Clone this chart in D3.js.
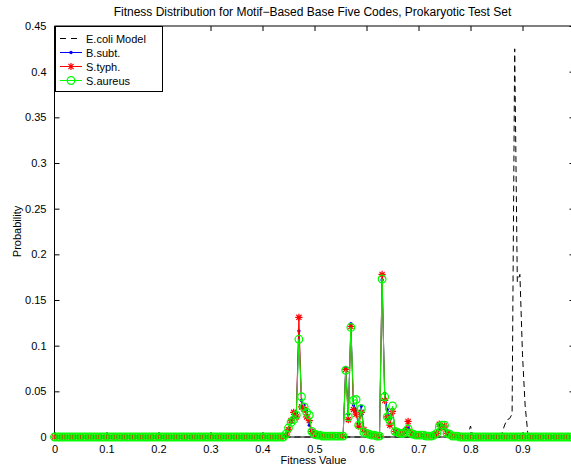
<!DOCTYPE html>
<html>
<head>
<meta charset="utf-8">
<script src="https://cdn.jsdelivr.net/npm/d3@7"></script>
<style>
  html, body { margin: 0; padding: 0; background: #fff; }
  svg { display: block; font-family: "Liberation Sans", Arial, Helvetica, sans-serif; }
</style>
</head>
<body>
<svg id="chart" width="571" height="468"></svg>
<script>
// Fitness bins run 0..1 in steps of 0.005; outside the listed windows every probability is 0.
const fitnessStep = 0.005;
const binCount = 201;

// Test-set organisms: probabilities for bins 0.440 .. 0.780
const organismWindowStart = 0.44;
const bsubt = [
  0, 0.002, 0.009, 0.016, 0.021, 0.026, 0.116, 0.040, 0.035, 0.028,
  0.013, 0.007, 0.003, 0.002, 0.002, 0.001, 0.001, 0.001, 0.001, 0.001,
  0.001, 0.001, 0.001, 0.001, 0.076, 0.025, 0.124, 0.035, 0.030, 0.015,
  0.034, 0.007, 0.006, 0.003, 0.002, 0.002, 0.001, 0.001, 0.172, 0.048,
  0.030, 0.020, 0.030, 0.007, 0.005, 0.004, 0.004, 0.006, 0.010, 0.004,
  0.003, 0.002, 0.002, 0.002, 0.001, 0.001, 0.001, 0.001, 0.002, 0.003,
  0.008, 0.013, 0.010, 0.004, 0.002, 0.001, 0.001, 0.001, 0
];
const styph = [
  0, 0.002, 0.008, 0.018, 0.027, 0.022, 0.131, 0.033, 0.030, 0.022,
  0.018, 0.006, 0.004, 0.003, 0.002, 0.001, 0.001, 0.001, 0.001, 0.001,
  0.001, 0.001, 0.001, 0.001, 0.074, 0.019, 0.121, 0.030, 0.025, 0.012,
  0.027, 0.008, 0.005, 0.003, 0.002, 0.002, 0.001, 0.001, 0.178, 0.040,
  0.022, 0.013, 0.028, 0.006, 0.005, 0.004, 0.004, 0.007, 0.017, 0.005,
  0.003, 0.002, 0.002, 0.002, 0.001, 0.001, 0.001, 0.001, 0.002, 0.004,
  0.014, 0.010, 0.012, 0.004, 0.002, 0.001, 0.001, 0.001, 0
];
const saureus = [
  0, 0.003, 0.010, 0.016, 0.019, 0.024, 0.107, 0.044, 0.033, 0.027,
  0.024, 0.006, 0.003, 0.002, 0.002, 0.001, 0.001, 0.001, 0.001, 0.001,
  0.001, 0.001, 0.001, 0.001, 0.073, 0.022, 0.120, 0.040, 0.041, 0.013,
  0.031, 0.005, 0.004, 0.003, 0.002, 0.002, 0.001, 0.001, 0.173, 0.044,
  0.022, 0.018, 0.034, 0.006, 0.005, 0.004, 0.004, 0.005, 0.009, 0.004,
  0.003, 0.002, 0.002, 0.002, 0.002, 0.001, 0.001, 0.001, 0.002, 0.004,
  0.011, 0.013, 0.013, 0.004, 0.003, 0.001, 0.001, 0.001, 0
];

// E. coli model: probabilities for bins 0.780 .. 0.920
const ecoliWindowStart = 0.78;
const ecoli = [
  0, 0, 0, 0.002, 0.012, 0.001, 0, 0, 0, 0,
  0, 0, 0, 0, 0, 0, 0.003, 0.012, 0.019, 0.020,
  0.025, 0.425, 0.170, 0.178, 0.090, 0.035, 0.005, 0, 0
];

const xTicks = [0, 0.1, 0.2, 0.3, 0.4, 0.5, 0.6, 0.7, 0.8, 0.9];
const yTicks = [0, 0.05, 0.1, 0.15, 0.2, 0.25, 0.3, 0.35, 0.4, 0.45];
const seriesNames = ["E.coli Model", "B.subt.", "S.typh.", "S.aureus"];

const titleText = "Fitness Distribution for Motif\u2212Based Base Five Codes, Prokaryotic Test Set";
const xLabel = "Fitness Value";
const yLabel = "Probability";

// Expand a window of values onto the full bin grid.
function onGrid(start, values) {
  const out = [];
  for (let i = 0; i < binCount; i++) {
    const f = +(i * fitnessStep).toFixed(3);
    const k = Math.round((f - start) / fitnessStep);
    out.push({ f, p: (k >= 0 && k < values.length) ? values[k] : 0 });
  }
  return out;
}

const svg = d3.select("#chart");

const x = d3.scaleLinear().domain([0, 1]).range([54.5, 574.5]);
const y = d3.scaleLinear().domain([0, 0.45]).range([437, 26]);

const plotLeft = x(0), plotRight = x(1), plotTop = y(0.45), plotBottom = y(0);

// Axes box and inward ticks
const axes = svg.append("g").attr("stroke", "#000").attr("stroke-width", 1).attr("fill", "none");
axes.append("line").attr("x1", plotLeft).attr("x2", plotLeft).attr("y1", plotTop).attr("y2", plotBottom);
axes.append("line").attr("x1", plotLeft).attr("x2", plotRight).attr("y1", plotBottom).attr("y2", plotBottom);
axes.append("line").attr("x1", plotLeft).attr("x2", plotRight).attr("y1", plotTop).attr("y2", plotTop);
axes.append("line").attr("x1", plotRight).attr("x2", plotRight).attr("y1", plotTop).attr("y2", plotBottom);

const xAxisB = d3.axisBottom(x).tickValues(xTicks).tickSize(-5).tickPadding(8).tickFormat(d => String(d));
const xAxisT = d3.axisTop(x).tickValues(xTicks).tickSize(-5).tickFormat("");
const yAxisL = d3.axisLeft(y).tickValues(yTicks).tickSize(-5).tickPadding(8).tickFormat(d => String(d));
const yAxisR = d3.axisRight(y).tickValues(yTicks).tickSize(-5).tickFormat("");

function styleAxis(g) {
  g.select(".domain").remove();
  g.selectAll(".tick line").attr("stroke", "#000");
  g.selectAll(".tick text").attr("fill", "#000").attr("font-size", 11)
    .attr("font-family", "'Liberation Sans', Arial, Helvetica, sans-serif");
}
svg.append("g").attr("transform", `translate(0,${plotBottom})`).call(xAxisB).call(styleAxis);
svg.append("g").attr("transform", `translate(0,${plotTop})`).call(xAxisT).call(styleAxis);
svg.append("g").attr("transform", `translate(${plotLeft},0)`).call(yAxisL).call(styleAxis);
svg.append("g").attr("transform", `translate(${plotRight},0)`).call(yAxisR).call(styleAxis);

// Titles
svg.append("text").attr("x", (plotLeft + plotRight) / 2 - 2).attr("y", 16)
  .attr("text-anchor", "middle").attr("font-size", 12).text(titleText);
svg.append("text").attr("x", (plotLeft + plotRight) / 2 - 1).attr("y", 464)
  .attr("text-anchor", "middle").attr("font-size", 11).text(xLabel);
svg.append("text").attr("transform", `translate(21,${(plotTop + plotBottom) / 2}) rotate(-90)`)
  .attr("text-anchor", "middle").attr("font-size", 11).text(yLabel);

const line = d3.line().x(d => x(d.f)).y(d => y(d.p));

// Marker painters
function dotMarker(g, cx, cy, color) {
  g.append("circle").attr("cx", cx).attr("cy", cy).attr("r", 1.7).attr("fill", color);
}
function starMarker(g, cx, cy, color) {
  const r = 3.6, d = r * 0.72;
  const p = `M${cx - r},${cy}H${cx + r}M${cx},${cy - r}V${cy + r}` +
            `M${cx - d},${cy - d}L${cx + d},${cy + d}M${cx - d},${cy + d}L${cx + d},${cy - d}`;
  g.append("path").attr("d", p).attr("stroke", color).attr("stroke-width", 1.2).attr("fill", "none");
}
function circleMarker(g, cx, cy, color) {
  g.append("circle").attr("cx", cx).attr("cy", cy).attr("r", 3.8)
    .attr("fill", "none").attr("stroke", color).attr("stroke-width", 1.3);
}

const series = [
  { name: seriesNames[0], data: onGrid(ecoliWindowStart, ecoli), color: "#000", dash: "6,4", marker: null },
  { name: seriesNames[1], data: onGrid(organismWindowStart, bsubt), color: "#0000ff", dash: null, marker: dotMarker },
  { name: seriesNames[2], data: onGrid(organismWindowStart, styph), color: "#ff0000", dash: null, marker: starMarker },
  { name: seriesNames[3], data: onGrid(organismWindowStart, saureus), color: "#00ff00", dash: null, marker: circleMarker }
];

const plot = svg.append("g");
series.forEach(s => {
  const g = plot.append("g");
  g.append("path").datum(s.data).attr("d", line)
    .attr("fill", "none").attr("stroke", s.color).attr("stroke-width", 1)
    .attr("stroke-dasharray", s.dash);
  if (s.marker) s.data.forEach(d => s.marker(g, x(d.f), y(d.p), s.color));
});

// Legend
const lg = svg.append("g");
lg.append("rect").attr("x", 55.5).attr("y", 26.5).attr("width", 107).attr("height", 65)
  .attr("fill", "#fff").attr("stroke", "#000").attr("stroke-width", 1);
series.forEach((s, i) => {
  const cy = 38.5 + i * 14;
  lg.append("line").attr("x1", 60).attr("x2", 82).attr("y1", cy).attr("y2", cy)
    .attr("stroke", s.color).attr("stroke-width", 1).attr("stroke-dasharray", s.dash ? "6,5" : null);
  if (s.marker) s.marker(lg, 71, cy, s.color);
  lg.append("text").attr("x", 86).attr("y", cy + 4).attr("font-size", 11).text(s.name);
});
</script>
</body>
</html>
